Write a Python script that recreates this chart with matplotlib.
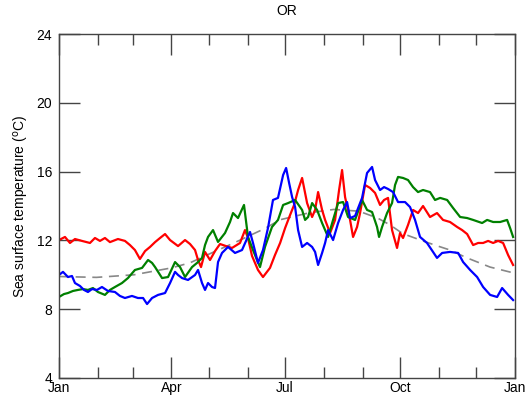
import numpy as np
import matplotlib.pyplot as plt

plt.rcParams['font.family'] = ['Liberation Sans', 'DejaVu Sans']

# day of year / temperature (degC)
red_day = [0, 4.8, 8.8, 12.8, 18.4, 24.8, 28.8, 32.8, 36.8, 40.8, 47.2, 52.8, 56.8, 60.8, 64.8,
           68.9, 72.9, 76.9, 80.9, 84.9, 88.9, 95.3, 100.9, 104.9, 108.9, 111.3, 113.7, 116.9,
           120.9, 124.9, 128.9, 133.7, 138.5, 144.9, 148.9, 151.3, 154.5, 159.3, 163.3, 168.9,
           172.9, 177.0, 181.0, 185.0, 188.2, 191.4, 194.6, 198.6, 202.6, 205.0, 207.4, 210.6,
           213.0, 217.0, 221.0, 224.2, 226.6, 229.0, 233.0, 235.4, 238.6, 241.0, 245.0, 249.0,
           253.0, 257.0, 260.2, 263.4, 266.6, 270.6, 273.0, 275.4, 279.4, 283.4, 287.4, 291.4,
           297.0, 302.6, 307.4, 313.0, 318.7, 322.7, 326.7, 331.5, 335.5, 339.5, 343.5, 347.5,
           351.5, 355.5, 359.5, 363.5]
red_t = [12.02, 12.2, 11.85, 12.08, 11.97, 11.85, 12.14, 11.97, 12.14, 11.9, 12.08, 11.97, 11.73,
         11.44, 10.92, 11.38, 11.62, 11.9, 12.14, 12.37, 12.02, 11.67, 12.02, 11.79, 11.44, 10.86,
         10.45, 11.33, 10.86, 11.38, 11.79, 11.67, 11.56, 11.85, 12.6, 12.14, 11.1, 10.28, 9.87,
         10.4, 11.15, 11.85, 12.72, 13.48, 14.06, 14.93, 15.63, 14.17, 13.36, 13.77, 14.81, 13.77,
         13.19, 12.43, 13.19, 14.93, 16.09, 14.52, 13.19, 12.2, 12.78, 13.59, 15.22, 15.05, 14.76,
         14.06, 14.35, 14.47, 12.6, 11.56, 12.43, 12.14, 12.9, 13.77, 13.59, 14.0, 13.36, 13.59,
         13.19, 13.07, 12.78, 12.6, 12.37, 11.73, 11.85, 11.85, 11.97, 11.85, 11.97, 11.85, 11.15,
         10.57]

blue_day = [0, 3.2, 7.2, 10.4, 12.8, 16.8, 20.0, 23.2, 26.4, 30.4, 34.4, 39.2, 44.8, 48.8, 52.8,
            58.4, 63.2, 67.3, 70.5, 74.5, 79.3, 84.9, 88.9, 92.9, 95.3, 98.5, 103.3, 108.9, 111.3,
            114.5, 116.9, 119.3, 122.5, 124.9, 127.3, 130.5, 135.3, 140.9, 146.5, 152.9, 155.3,
            159.3, 163.3, 167.3, 171.3, 175.3, 179.4, 181.8, 184.2, 186.6, 189.0, 191.4, 194.6,
            198.6, 202.6, 205.0, 207.4, 210.6, 213.0, 215.4, 219.4, 223.4, 227.4, 230.6, 233.0,
            237.0, 242.6, 246.6, 250.6, 253.0, 257.0, 260.2, 263.4, 267.4, 271.4, 277.0, 281.0,
            285.0, 289.0, 294.6, 299.4, 302.6, 306.7, 313.0, 319.5, 323.5, 329.1, 334.7, 339.5,
            345.1, 350.7, 354.7, 359.5, 363.5]
blue_t = [9.99, 10.17, 9.87, 9.93, 9.52, 9.35, 9.12, 9.0, 9.17, 9.12, 9.29, 9.06, 9.0, 8.77, 8.65,
          8.77, 8.65, 8.65, 8.3, 8.65, 8.83, 8.94, 9.52, 10.17, 9.99, 9.81, 9.7, 9.99, 10.28, 9.52,
          9.12, 9.52, 9.29, 9.23, 10.74, 11.27, 11.62, 11.27, 11.44, 12.49, 11.85, 10.69, 11.44,
          12.72, 14.35, 14.47, 15.8, 16.21, 15.34, 14.52, 13.94, 12.6, 11.62, 11.85, 11.62, 11.33,
          10.57, 11.27, 11.85, 12.6, 12.02, 13.01, 13.77, 14.23, 13.3, 13.42, 14.47, 15.92, 16.27,
          15.51, 14.93, 15.1, 14.99, 14.81, 14.23, 14.23, 13.94, 13.19, 12.2, 11.85, 11.33, 10.98,
          11.27, 11.33, 11.27, 10.74, 10.28, 9.87, 9.29, 8.83, 8.71, 9.23, 8.83, 8.53]

green_day = [0, 4.0, 7.2, 11.2, 15.2, 19.2, 23.2, 27.2, 31.2, 36.8, 40.8, 44.8, 50.4, 55.2, 60.8,
             66.5, 71.3, 74.5, 76.9, 82.5, 87.3, 92.9, 96.9, 100.9, 106.5, 110.5, 114.5, 116.9,
             119.3, 123.3, 127.3, 132.9, 136.9, 139.3, 143.3, 148.1, 151.3, 155.3, 158.5, 160.9,
             164.9, 170.5, 175.3, 179.4, 183.4, 189.0, 194.6, 197.0, 199.4, 202.6, 206.6, 210.6,
             215.4, 219.4, 223.4, 227.4, 231.4, 237.0, 242.6, 246.6, 250.6, 254.6, 256.2, 258.6,
             262.6, 266.6, 269.0, 271.4, 275.4, 279.4, 283.4, 287.4, 291.4, 297.0, 301.0, 305.1,
             310.7, 315.5, 321.1, 326.7, 331.5, 338.7, 342.7, 347.5, 353.1, 358.7, 361.1, 363.5]
green_t = [8.71, 8.88, 8.94, 9.06, 9.12, 9.17, 9.12, 9.23, 9.0, 8.83, 9.12, 9.29, 9.52, 9.81, 10.28,
           10.4, 10.86, 10.69, 10.45, 9.81, 9.87, 10.74, 10.45, 9.87, 10.45, 10.69, 10.98, 11.73,
           12.2, 12.6, 11.91, 12.43, 13.07, 13.59, 13.3, 14.06, 12.2, 11.44, 10.86, 10.45, 11.62,
           12.78, 13.19, 14.06, 14.17, 14.35, 13.77, 13.19, 13.36, 14.17, 13.77, 13.01, 12.2, 13.19,
           14.17, 14.23, 13.36, 13.19, 14.35, 13.77, 13.65, 12.78, 12.2, 12.78, 13.59, 14.17, 15.22,
           15.69, 15.63, 15.51, 15.1, 14.81, 14.93, 14.81, 14.35, 14.47, 14.35, 13.88, 13.36, 13.3,
           13.19, 13.01, 13.19, 13.07, 13.07, 13.19, 12.72, 12.2]

clim_day = [0, 30, 60, 90, 105, 120, 140, 165, 177, 200, 220, 240, 255, 265, 275, 290, 302, 313,
            326, 345, 361, 365]
clim_t = [9.9, 9.85, 10.0, 10.4, 10.7, 11.2, 11.85, 12.7, 13.2, 13.6, 13.8, 13.7, 13.3, 12.9,
          12.4, 12.0, 11.7, 11.44, 11.0, 10.45, 10.16, 10.1]

month_starts = [0, 31, 59, 90, 120, 151, 181, 212, 243, 273, 304, 334, 365]
major_days = [0, 90, 181, 273, 365]
major_labels = ['Jan', 'Apr', 'Jul', 'Oct', 'Jan']

fig = plt.figure(figsize=(5.29, 4.04), dpi=100)
ax = fig.add_axes([0.1115, 0.0644, 0.862, 0.8514])

ax.plot(clim_day, clim_t, color='#888888', lw=1.2, ls=(0, (6, 4)))
ax.plot(red_day, red_t, color='red', lw=1.6)
ax.plot(green_day, green_t, color='#008000', lw=1.6)
ax.plot(blue_day, blue_t, color='blue', lw=1.6)

ax.set_xlim(0, 365)
ax.set_ylim(4, 24)
ax.set_yticks([4, 8, 12, 16, 20, 24])
ax.set_xticks(major_days)
ax.set_xticklabels(major_labels)
ax.set_xticks([d for d in month_starts if d not in major_days], minor=True)

ax.tick_params(which='both', direction='in', top=True, right=True, colors='#444444',
               labelcolor='black', labelsize=10, width=1)
ax.tick_params(which='major', length=15)
ax.tick_params(which='minor', length=8)
ax.tick_params(axis='x', pad=2)
ax.tick_params(axis='y', pad=5)
for s in ax.spines.values():
    s.set_color('#444444')
    s.set_linewidth(1)

ax.set_ylabel('Sea surface temperature ($^{\\rm o}$C)', fontsize=10, labelpad=4)
ax.set_title('OR', fontsize=10, pad=14)

fig.savefig('out.png', dpi=100)
